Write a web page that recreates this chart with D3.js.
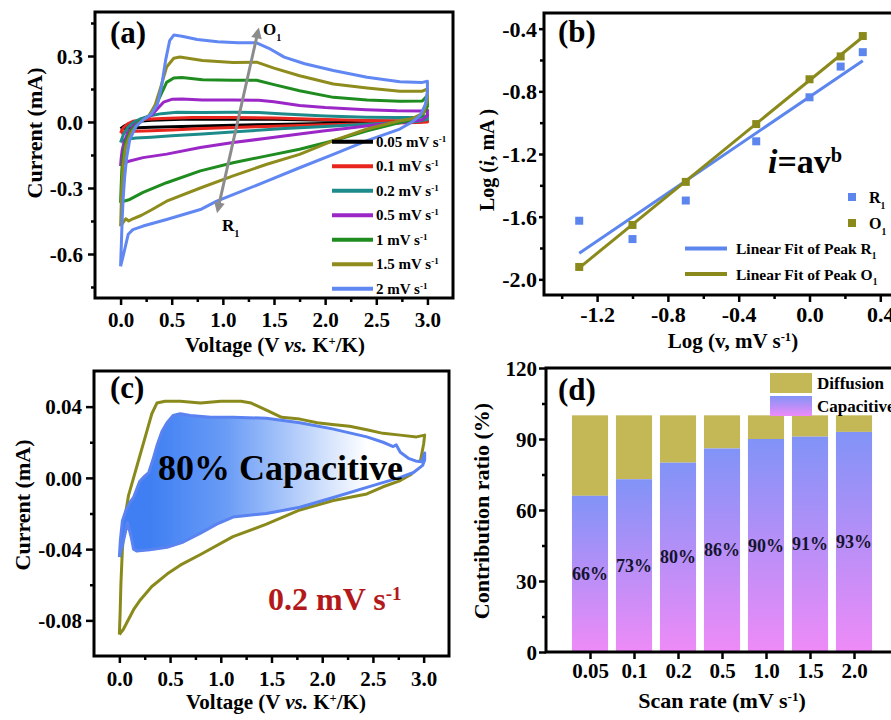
<!DOCTYPE html>
<html>
<head>
<meta charset="utf-8">
<script src="https://cdn.jsdelivr.net/npm/d3@7"></script>
<style>
  body { margin: 0; background: #fff; }
  svg { display: block; font-family: "Liberation Serif", "Times New Roman", Times, serif; font-weight: bold; }
</style>
</head>
<body>
<svg id="fig" width="891" height="720"></svg>
<script>
// ---- (a) CV loops at several scan rates, points are [V, mA] ----
const cvRates = ['0.05', '0.1', '0.2', '0.5', '1', '1.5', '2'];
const cv005 = [[0.0,-0.030],[0.03,-0.02],[0.08,-0.008],[0.15,0.002],[0.3,0.008],[0.6,0.012],[1.0,0.013],[1.5,0.012],[2.0,0.008],[2.5,0.005],[3.0,0.003],
  [2.9,0.0],[2.5,-0.003],[2.0,-0.007],[1.5,-0.011],[1.0,-0.016],[0.6,-0.020],[0.3,-0.024],[0.1,-0.027],[0.0,-0.030]];
const cv01 = [[0.0,-0.050],[0.01,-0.04],[0.03,-0.025],[0.07,-0.008],[0.12,0.003],[0.25,0.012],[0.4,0.016],[0.7,0.02],[1.1,0.021],[1.5,0.018],[2.0,0.011],[2.5,0.006],[2.9,0.003],[3.0,0.005],
  [3.0,0.0],[2.9,-0.002],[2.7,-0.005],[2.4,-0.009],[2.0,-0.013],[1.5,-0.019],[1.1,-0.025],[0.8,-0.03],[0.5,-0.036],[0.3,-0.04],[0.15,-0.042],[0.06,-0.044],[0.02,-0.047],[0.0,-0.050]];
const cv02 = [[0.0,-0.093],[0.01,-0.08],[0.03,-0.055],[0.07,-0.025],[0.12,-0.003],[0.2,0.015],[0.3,0.03],[0.4,0.038],[0.55,0.044],[0.8,0.043],[1.1,0.044],[1.35,0.043],[1.6,0.036],[2.0,0.027],[2.4,0.022],[2.7,0.021],[2.95,0.022],[3.0,0.03],
  [3.0,0.012],[2.9,0.002],[2.7,-0.003],[2.4,-0.01],[2.0,-0.02],[1.6,-0.03],[1.2,-0.042],[0.8,-0.054],[0.5,-0.063],[0.3,-0.069],[0.15,-0.073],[0.06,-0.078],[0.02,-0.085],[0.0,-0.093]];
const cv05 = [[0.0,-0.2],[0.005,-0.17],[0.015,-0.13],[0.035,-0.09],[0.07,-0.05],[0.13,-0.015],[0.22,0.01],[0.3,0.03],[0.36,0.06],[0.42,0.09],[0.5,0.103],[0.6,0.105],[0.8,0.1],[1.1,0.1],[1.35,0.099],[1.5,0.092],[1.75,0.075],[2.0,0.066],[2.4,0.056],[2.7,0.051],[2.95,0.05],[3.0,0.055],
  [3.0,0.03],[2.95,0.01],[2.8,0.0],[2.5,-0.012],[2.2,-0.03],[2.0,-0.04],[1.75,-0.055],[1.43,-0.074],[1.1,-0.093],[0.78,-0.116],[0.45,-0.146],[0.22,-0.162],[0.09,-0.177],[0.03,-0.188],[0.0,-0.2]];
const cv1 = [[0.0,-0.367],[0.005,-0.3],[0.012,-0.22],[0.025,-0.15],[0.05,-0.09],[0.1,-0.04],[0.18,0.0],[0.28,0.03],[0.34,0.07],[0.4,0.13],[0.45,0.18],[0.52,0.2],[0.6,0.202],[0.8,0.192],[1.1,0.19],[1.33,0.19],[1.5,0.17],[1.75,0.142],[2.08,0.112],[2.41,0.1],[2.73,0.094],[2.95,0.095],[3.0,0.12],
  [3.0,0.07],[2.95,0.03],[2.85,0.01],[2.73,-0.002],[2.41,-0.04],[2.08,-0.085],[1.75,-0.124],[1.43,-0.154],[1.1,-0.185],[0.78,-0.222],[0.45,-0.276],[0.22,-0.32],[0.09,-0.352],[0.03,-0.36],[0.0,-0.367]];
const cv15 = [[0.0,-0.474],[0.005,-0.4],[0.012,-0.3],[0.025,-0.2],[0.05,-0.11],[0.1,-0.05],[0.18,-0.005],[0.28,0.03],[0.34,0.08],[0.4,0.17],[0.45,0.25],[0.52,0.29],[0.58,0.295],[0.8,0.28],[1.1,0.27],[1.33,0.272],[1.5,0.245],[1.75,0.21],[2.08,0.173],[2.41,0.155],[2.73,0.14],[2.95,0.14],[3.0,0.15],
  [3.0,0.1],[2.96,0.04],[2.85,0.015],[2.73,0.006],[2.41,-0.032],[2.08,-0.085],[1.75,-0.147],[1.43,-0.192],[1.1,-0.245],[0.78,-0.3],[0.45,-0.36],[0.3,-0.4],[0.2,-0.425],[0.12,-0.44],[0.08,-0.45],[0.05,-0.44],[0.02,-0.46],[0.0,-0.474]];
const cv2 = [[0.0,-0.656],[0.008,-0.55],[0.015,-0.45],[0.025,-0.35],[0.04,-0.25],[0.06,-0.16],[0.09,-0.08],[0.15,-0.02],[0.22,0.01],[0.3,0.035],[0.36,0.08],[0.4,0.16],[0.44,0.28],[0.48,0.37],[0.52,0.395],[0.6,0.39],[0.75,0.375],[0.95,0.365],[1.15,0.36],[1.33,0.36],[1.45,0.335],[1.6,0.295],[1.8,0.265],[2.08,0.234],[2.41,0.203],[2.73,0.183],[2.95,0.18],[3.0,0.185],
  [3.0,0.14],[2.98,0.08],[2.93,0.03],[2.85,0.0],[2.73,-0.032],[2.41,-0.085],[2.08,-0.147],[1.75,-0.208],[1.43,-0.269],[1.1,-0.33],[0.94,-0.36],[0.78,-0.398],[0.45,-0.443],[0.22,-0.473],[0.12,-0.489],[0.075,-0.51],[0.03,-0.6],[0.0,-0.656]];
const cvCurves = [cv005, cv01, cv02, cv05, cv1, cv15, cv2];
const cvColors = ['#000000', '#e8261e', '#1e8b8b', '#9b27c7', '#1f8c1f', '#8f8c1e', '#6087f2'];

// ---- (b) log of peak current vs log of scan rate ----
const scanRates = [0.05, 0.1, 0.2, 0.5, 1, 1.5, 2];
const logPeakR1 = [-1.626, -1.743, -1.497, -1.119, -0.838, -0.642, -0.55];
const logPeakO1 = [-1.921, -1.653, -1.378, -1.009, -0.723, -0.577, -0.447];

// ---- (c) total CV and capacitive part at 0.2 mV/s ----
const cvTotal = [[0.0,-0.088],[0.008,-0.075],[0.015,-0.06],[0.03,-0.04],[0.055,-0.022],[0.09,-0.01],[0.14,0.0],[0.2,0.012],[0.27,0.026],[0.32,0.036],[0.37,0.042],[0.45,0.043],[0.6,0.043],[0.8,0.042],[1.0,0.043],[1.2,0.043],[1.3,0.042],[1.45,0.038],[1.6,0.034],[1.78,0.033],[1.95,0.031],[2.1,0.030],[2.27,0.029],[2.44,0.027],[2.6,0.025],[2.77,0.024],[2.93,0.023],[3.01,0.024],
  [3.0,0.019],[2.97,0.01],[2.88,0.002],[2.77,-0.0015],[2.6,-0.005],[2.44,-0.009],[2.11,-0.0127],[1.78,-0.018],[1.45,-0.026],[1.12,-0.033],[0.8,-0.043],[0.6,-0.049],[0.47,-0.054],[0.32,-0.061],[0.2,-0.069],[0.14,-0.074],[0.04,-0.085],[0.0,-0.088]];
const cvCapacitive = [[0.0,-0.0445],[0.01,-0.035],[0.03,-0.024],[0.06,-0.019],[0.1,-0.014],[0.14,-0.011],[0.2,-0.002],[0.25,0.001],[0.29,0.003],[0.33,0.01],[0.37,0.018],[0.42,0.026],[0.47,0.031],[0.53,0.035],[0.6,0.036],[0.7,0.035],[0.9,0.034],[1.12,0.034],[1.45,0.0335],[1.78,0.031],[2.1,0.0275],[2.44,0.023],[2.6,0.02],[2.7,0.0176],[2.73,0.0185],[2.77,0.0144],[2.85,0.011],[2.92,0.0095],[2.98,0.009],[3.01,0.014],
  [3.01,0.01],[2.99,0.007],[2.9,0.003],[2.77,0.0003],[2.44,-0.0053],[2.11,-0.011],[1.78,-0.0165],[1.45,-0.020],[1.12,-0.022],[0.96,-0.026],[0.8,-0.031],[0.63,-0.036],[0.47,-0.039],[0.3,-0.0404],[0.17,-0.041],[0.14,-0.04],[0.12,-0.034],[0.08,-0.025],[0.05,-0.033],[0.02,-0.04],[0.0,-0.0445]];

// ---- (d) contribution ratio ----
const rateLabels = ['0.05', '0.1', '0.2', '0.5', '1.0', '1.5', '2.0'];
const capacitivePct = [66, 73, 80, 86, 90, 91, 93];

const svg = d3.select('#fig');
const defs = svg.append('defs');

// rich text: parts like {t, i, sup, sub}
function rich(sel, parts) {
  parts.forEach(p => {
    const s = sel.append('tspan').text(p.t);
    if (p.i) s.attr('font-style', 'italic');
    if (p.sup) s.attr('baseline-shift', 'super').attr('font-size', '60%');
    if (p.sub) s.attr('baseline-shift', 'sub').attr('font-size', '60%');
  });
  return sel;
}

function drawAxes(g, x, y, o) {
  const [left, right] = x.range();
  const [bottom, top] = y.range();
  const gx = g.append('g').attr('transform', `translate(0,${bottom})`);
  if (o.xMinor) gx.append('g').call(d3.axisBottom(x).tickValues(o.xMinor).tickSize(4).tickSizeOuter(0).tickFormat(''));
  gx.append('g').call(d3.axisBottom(x).tickValues(o.xMajor).tickSize(7).tickSizeOuter(0).tickFormat(o.xFmt))
    .attr('font-family', null).attr('font-size', o.fs || 21)
    .selectAll('text').attr('y', o.xLabY).attr('dy', null);
  const gy = g.append('g').attr('transform', `translate(${left},0)`);
  if (o.yMinor) gy.append('g').call(d3.axisLeft(y).tickValues(o.yMinor).tickSize(4).tickSizeOuter(0).tickFormat(''));
  gy.append('g').call(d3.axisLeft(y).tickValues(o.yMajor).tickSize(o.yTick || 7).tickPadding(o.yPad).tickSizeOuter(0).tickFormat(o.yFmt))
    .attr('font-family', null).attr('font-size', o.fs || 21)
    .selectAll('text').attr('dy', '0.34em');
  g.selectAll('.domain').remove();
  g.selectAll('.tick line').attr('stroke', '#000').attr('stroke-width', 2.5);
  g.selectAll('.tick text').attr('fill', '#000');
  g.append('rect').attr('x', left).attr('y', top).attr('width', right - left).attr('height', bottom - top)
    .attr('fill', 'none').attr('stroke', '#000').attr('stroke-width', 3);
}

function panelLabel(g, x, y, s) {
  g.append('text').attr('x', x).attr('y', y).attr('font-size', 31).text(s);
}

// ================= (a) =================
const gA = svg.append('g');
const xA = d3.scaleLinear().domain([-0.25, 3.25]).range([95, 453]);
const yA = d3.scaleLinear().domain([-0.8, 0.5]).range([298, 12]);
const lineA = d3.line().x(d => xA(d[0])).y(d => yA(d[1]));

gA.selectAll('path.cv').data(cvCurves).join('path').attr('class', 'cv')
  .attr('d', lineA).attr('fill', 'none')
  .attr('stroke', (d, i) => cvColors[i]).attr('stroke-width', 3).attr('stroke-linejoin', 'round');

defs.append('marker').attr('id', 'head').attr('viewBox', '0 0 10 10')
  .attr('refX', 7).attr('refY', 5).attr('markerWidth', 4.5).attr('markerHeight', 3.6)
  .attr('orient', 'auto-start-reverse')
  .append('path').attr('d', 'M0,0L10,5L0,10z').attr('fill', '#8c8c8c');
const arrowFrom = [0.95, -0.40], arrowTo = [1.345, 0.415];
gA.append('line').attr('x1', xA(arrowFrom[0])).attr('y1', yA(arrowFrom[1]))
  .attr('x2', xA(arrowTo[0])).attr('y2', yA(arrowTo[1]))
  .attr('stroke', '#8c8c8c').attr('stroke-width', 3)
  .attr('marker-start', 'url(#head)').attr('marker-end', 'url(#head)');
rich(gA.append('text').attr('x', 263).attr('y', 35).attr('font-size', 17), [{t: 'O'}, {t: '1', sub: 1}]);
rich(gA.append('text').attr('x', 222).attr('y', 231).attr('font-size', 17), [{t: 'R'}, {t: '1', sub: 1}]);

const legA = gA.append('g');
cvRates.forEach((r, i) => {
  const ly = 141.7 + i * 24.5;
  legA.append('line').attr('x1', 332).attr('x2', 373).attr('y1', ly).attr('y2', ly)
    .attr('stroke', cvColors[i]).attr('stroke-width', 4);
  rich(legA.append('text').attr('x', 376).attr('y', ly + 5).attr('font-size', 15),
    [{t: r + ' mV s'}, {t: '-1', sup: 1}]);
});

drawAxes(gA, xA, yA, {
  xMajor: [0, 0.5, 1, 1.5, 2, 2.5, 3], xMinor: [0.25, 0.75, 1.25, 1.75, 2.25, 2.75],
  yMajor: [-0.6, -0.3, 0, 0.3], yMinor: [-0.75, -0.45, -0.15, 0.15, 0.45],
  xFmt: d => d.toFixed(1), yFmt: d => d.toFixed(1), xLabY: 29, yPad: 5
});
panelLabel(gA, 110, 43, '(a)');
rich(gA.append('text').attr('x', 275).attr('y', 352).attr('font-size', 21).attr('text-anchor', 'middle'),
  [{t: 'Voltage (V '}, {t: 'vs.', i: 1}, {t: ' K'}, {t: '+', sup: 1}, {t: '/K)'}]);
gA.append('text').attr('transform', 'translate(42,133) rotate(-90)').attr('text-anchor', 'middle')
  .attr('font-size', 22).text('Current (mA)');

// ================= (b) =================
const gB = svg.append('g');
const xB = d3.scaleLinear().domain([-1.5, 0.5]).range([544, 898]);
const yB = d3.scaleLinear().domain([-2.1, -0.3]).range([295, 13]);
const logV = scanRates.map(Math.log10);

function linfit(xs, ys) {
  const mx = d3.mean(xs), my = d3.mean(ys);
  const sxy = d3.sum(xs, (x, i) => (x - mx) * (ys[i] - my));
  const sxx = d3.sum(xs, x => (x - mx) ** 2);
  const b = sxy / sxx;
  return x => my + b * (x - mx);
}
const fitR1 = linfit(logV, logPeakR1), fitO1 = linfit(logV, logPeakO1);
const xEnds = d3.extent(logV);
const colR = '#5c86ee', colO = '#8a8a1c';
[[fitR1, colR], [fitO1, colO]].forEach(([f, c]) => {
  gB.append('line').attr('x1', xB(xEnds[0])).attr('y1', yB(f(xEnds[0])))
    .attr('x2', xB(xEnds[1])).attr('y2', yB(f(xEnds[1])))
    .attr('stroke', c).attr('stroke-width', 3);
});
[[logPeakR1, colR], [logPeakO1, colO]].forEach(([ys, c]) => {
  gB.selectAll(null).data(ys).join('rect')
    .attr('x', (d, i) => xB(logV[i]) - 4).attr('y', d => yB(d) - 4)
    .attr('width', 8).attr('height', 8).attr('fill', c);
});

drawAxes(gB, xB, yB, {
  xMajor: [-1.2, -0.8, -0.4, 0, 0.4], xMinor: [-1.4, -1.0, -0.6, -0.2, 0.2],
  yMajor: [-2.0, -1.6, -1.2, -0.8, -0.4], yMinor: [-1.8, -1.4, -1.0, -0.6],
  xFmt: d => d.toFixed(1), yFmt: d => d.toFixed(1), xLabY: 27, yPad: 2, yTick: 5, fs: 22
});
panelLabel(gB, 558, 42, '(b)');
rich(gB.append('text').attr('x', 768).attr('y', 173).attr('font-size', 34),
  [{t: 'i', i: 1}, {t: '=av'}, {t: 'b', sup: 1}]);
gB.append('rect').attr('x', 848).attr('y', 193).attr('width', 8).attr('height', 8).attr('fill', colR);
gB.append('rect').attr('x', 848).attr('y', 219).attr('width', 8).attr('height', 8).attr('fill', colO);
rich(gB.append('text').attr('x', 869).attr('y', 203).attr('font-size', 16), [{t: 'R'}, {t: '1', sub: 1}]);
rich(gB.append('text').attr('x', 869).attr('y', 229).attr('font-size', 16), [{t: 'O'}, {t: '1', sub: 1}]);
[['R', colR, 248.5], ['O', colO, 274]].forEach(([p, c, ly]) => {
  gB.append('line').attr('x1', 685).attr('x2', 727).attr('y1', ly).attr('y2', ly)
    .attr('stroke', c).attr('stroke-width', 4);
  rich(gB.append('text').attr('x', 736).attr('y', ly + 5.5).attr('font-size', 15.5),
    [{t: 'Linear Fit of Peak ' + p}, {t: '1', sub: 1}]);
});
rich(gB.append('text').attr('x', 733).attr('y', 348).attr('font-size', 21).attr('text-anchor', 'middle'),
  [{t: 'Log (v, mV s'}, {t: '-1', sup: 1}, {t: ')'}]);
rich(gB.append('text').attr('transform', 'translate(494,160) rotate(-90)').attr('text-anchor', 'middle')
  .attr('font-size', 20), [{t: 'Log ('}, {t: 'i', i: 1}, {t: ', mA )'}]);

// ================= (c) =================
const gC = svg.append('g');
const xC = d3.scaleLinear().domain([-0.25, 3.25]).range([94, 449]);
const yC = d3.scaleLinear().domain([-0.1, 0.06]).range([656, 371]);
const lineC = d3.line().x(d => xC(d[0])).y(d => yC(d[1]));

const capGrad = defs.append('linearGradient').attr('id', 'capFill')
  .attr('gradientUnits', 'userSpaceOnUse')
  .attr('x1', xC(0.3)).attr('x2', xC(2.45)).attr('y1', 0).attr('y2', 0);
capGrad.append('stop').attr('offset', 0).attr('stop-color', '#3f7ff3');
capGrad.append('stop').attr('offset', 0.35).attr('stop-color', '#6a9cf6');
capGrad.append('stop').attr('offset', 1).attr('stop-color', '#ffffff');

gC.append('path').attr('d', lineC(cvTotal)).attr('fill', 'none')
  .attr('stroke', '#8a8a1c').attr('stroke-width', 3).attr('stroke-linejoin', 'round');
gC.append('path').attr('d', lineC(cvCapacitive)).attr('fill', 'url(#capFill)')
  .attr('stroke', '#5a82f0').attr('stroke-width', 3).attr('stroke-linejoin', 'round');
gC.append('text').attr('x', 158).attr('y', 480).attr('font-size', 36).text('80% Capacitive');
rich(gC.append('text').attr('x', 268).attr('y', 610).attr('font-size', 32).attr('fill', '#b3191a'),
  [{t: '0.2 mV s'}, {t: '-1', sup: 1}]);

drawAxes(gC, xC, yC, {
  xMajor: [0, 0.5, 1, 1.5, 2, 2.5, 3], xMinor: [0.25, 0.75, 1.25, 1.75, 2.25, 2.75],
  yMajor: [-0.08, -0.04, 0, 0.04], yMinor: [-0.06, -0.02, 0.02],
  xFmt: d => d.toFixed(1), yFmt: d => d.toFixed(2), xLabY: 30, yPad: 4, yTick: 8
});
panelLabel(gC, 110, 398, '(c)');
rich(gC.append('text').attr('x', 276).attr('y', 709).attr('font-size', 21).attr('text-anchor', 'middle'),
  [{t: 'Voltage (V '}, {t: 'vs.', i: 1}, {t: ' K'}, {t: '+', sup: 1}, {t: '/K)'}]);
gC.append('text').attr('transform', 'translate(30,505) rotate(-90)').attr('text-anchor', 'middle')
  .attr('font-size', 22).text('Current (mA)');

// ================= (d) =================
const gD = svg.append('g');
const xD = d3.scaleLinear().domain([0, 8]).range([546, 898]);
const yD = d3.scaleLinear().domain([0, 120]).range([652, 368]);
const bw = (xD(1) - xD(0)) * 0.82;

const barGrad = defs.append('linearGradient').attr('id', 'barFill')
  .attr('x1', 0).attr('y1', 0).attr('x2', 0).attr('y2', 1);
barGrad.append('stop').attr('offset', 0).attr('stop-color', '#8193f7');
barGrad.append('stop').attr('offset', 1).attr('stop-color', '#ee8bf7');
const diffColor = '#c4b756';

const bars = gD.selectAll('g.bar').data(capacitivePct).join('g').attr('class', 'bar');
bars.append('rect').attr('x', (d, i) => xD(i + 1) - bw / 2).attr('width', bw)
  .attr('y', yD(100)).attr('height', d => yD(d) - yD(100)).attr('fill', diffColor);
bars.append('rect').attr('x', (d, i) => xD(i + 1) - bw / 2).attr('width', bw)
  .attr('y', d => yD(d)).attr('height', d => yD(0) - yD(d)).attr('fill', 'url(#barFill)');
bars.append('text').attr('x', (d, i) => xD(i + 1)).attr('y', d => yD(d / 2))
  .attr('text-anchor', 'middle').attr('dominant-baseline', 'central')
  .attr('font-size', 18).attr('fill', '#14142e').text(d => d + '%');

gD.append('rect').attr('x', 770).attr('y', 373).attr('width', 42).attr('height', 20).attr('fill', diffColor);
gD.append('rect').attr('x', 770).attr('y', 396).attr('width', 42).attr('height', 20).attr('fill', 'url(#barFill)');
gD.append('text').attr('x', 817).attr('y', 389).attr('font-size', 17).text('Diffusion');
gD.append('text').attr('x', 817).attr('y', 412).attr('font-size', 17).text('Capacitive');

drawAxes(gD, xD, yD, {
  xMajor: d3.range(1, 8), xMinor: null,
  yMajor: [0, 30, 60, 90, 120], yMinor: [15, 45, 75, 105],
  xFmt: d => rateLabels[d - 1], yFmt: d => d, xLabY: 26, yPad: 2
});
panelLabel(gD, 558, 400, '(d)');
rich(gD.append('text').attr('x', 722).attr('y', 708).attr('font-size', 22).attr('text-anchor', 'middle'),
  [{t: 'Scan rate (mV s'}, {t: '-1', sup: 1}, {t: ')'}]);
gD.append('text').attr('transform', 'translate(489,511) rotate(-90)').attr('text-anchor', 'middle')
  .attr('font-size', 22).text('Contribution ratio (%)');
</script>
</body>
</html>
